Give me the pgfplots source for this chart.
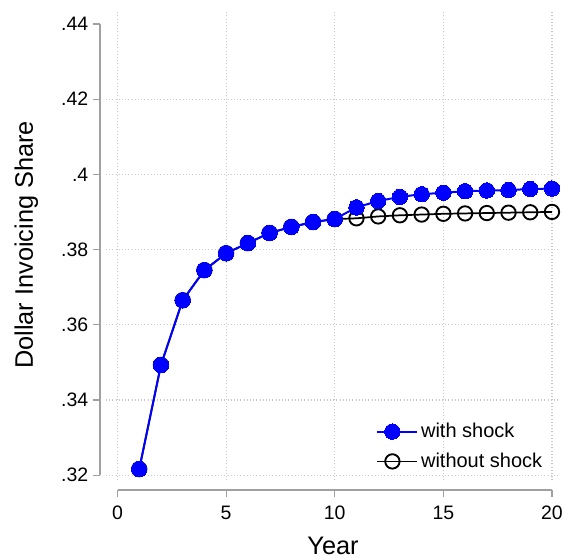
\documentclass[border=0pt]{standalone}
\usepackage{pgfplots}
\pgfplotsset{compat=1.18}
\usepackage{fontspec}
\setmainfont{Liberation Sans}
\definecolor{axgray}{RGB}{160,160,160}
\definecolor{gridgray}{RGB}{200,200,200}
\begin{document}
\begin{tikzpicture}
\begin{axis}[
  name=ax,
  scale only axis,
  width=340.5pt, height=352.5pt,
  xmin=-0.53, xmax=20.37,
  ymin=0.3187, ymax=0.4437,
  axis lines*=left,
  axis line style={draw=none,-},
  axis y line shift=4.5pt,
  axis x line shift=7.5pt,
  xtick={0,5,10,15,20},
  xticklabels={0,5,10,15,20},
  ytick={0.32,0.34,0.36,0.38,0.40,0.42},
  yticklabels={.32,.34,.36,.38,.4,.42},
  extra y ticks={0.44},
  extra y tick labels={.44},
  extra y tick style={grid=none},
  tick align=outside,
  major tick length=5.25pt,
  tick style={axgray, line width=0.9pt},
  grid=major,
  major grid style={gridgray, dotted, line width=0.9pt},
  tick label style={font=\fontsize{14.6}{16}\selectfont},
  xticklabel style={yshift=-3pt},
  xlabel={Year},
  ylabel={Dollar Invoicing Share},
  label style={font=\fontsize{19}{21}\selectfont},
  xlabel style={yshift=-6pt},
  clip=false,
  reverse legend=true,
  legend image code/.code={\draw[mark repeat=2,mark phase=2,#1] plot coordinates {(0pt,0pt) (11.25pt,0pt) (22.5pt,0pt)}; \path (0pt,0pt) -- (30pt,0pt);},
  legend style={draw=none, fill=none, inner sep=0pt, at={(0.595,0.0713)}, anchor=west,
    font=\fontsize{15}{17}\selectfont, row sep=6pt},
  legend cell align=left,
]
\draw[axgray, line width=0.9pt] ([xshift=-4.5pt]axis cs:-0.53,0.32) -- ([xshift=-4.5pt]axis cs:-0.53,0.44);
\draw[axgray, line width=0.9pt] ([yshift=-7.5pt]axis cs:0,0.3187) -- ([yshift=-7.5pt]axis cs:20,0.3187);
\addplot[black, line width=1.3pt, mark=o, mark size=5.4pt, mark options={line width=1.4pt, fill=white}]
coordinates {
(1,0.3216)(2,0.3493)(3,0.3665)(4,0.3745)(5,0.3790)(6,0.3817)(7,0.3844)(8,0.3860)(9,0.3873)(10,0.3881)
(11,0.3883)(12,0.3888)(13,0.3891)(14,0.3893)(15,0.3895)(16,0.3896)(17,0.3897)(18,0.3898)(19,0.3899)(20,0.3900)
};
\addlegendentry{without shock}
\addplot[blue, line width=1.5pt, mark=*, mark size=5.8pt, mark options={fill=blue, draw=blue, line width=0pt}]
coordinates {
(1,0.3216)(2,0.3493)(3,0.3665)(4,0.3745)(5,0.3790)(6,0.3817)(7,0.3844)(8,0.3860)(9,0.3873)(10,0.3881)
(11,0.3912)(12,0.3929)(13,0.3940)(14,0.3947)(15,0.3951)(16,0.3955)(17,0.3957)(18,0.3958)(19,0.3961)(20,0.3962)
};
\addlegendentry{with shock}
\end{axis}
\pgfresetboundingbox
\useasboundingbox ([shift={(-79.5pt,-58.5pt)}]ax.south west) rectangle ([shift={(2.25pt,7.5pt)}]ax.north east);
\end{tikzpicture}
\end{document}
